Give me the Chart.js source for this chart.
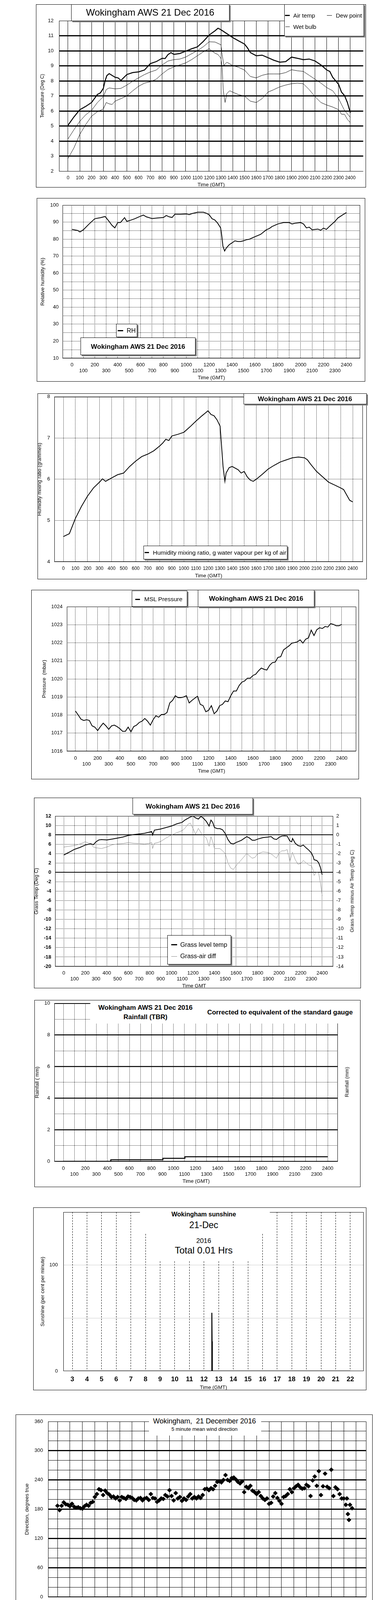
<!DOCTYPE html>
<html>
<head>
<meta charset="utf-8">
<title>Wokingham AWS 21 Dec 2016</title>
<script src="https://cdn.jsdelivr.net/npm/chart.js@4.4.1/dist/chart.umd.min.js"></script>
<style>
  body { margin: 0; width: 1000px; height: 5000px; position: relative; background: #fff;
         font-family: 'Liberation Sans', Arial, sans-serif; color: #000; overflow: hidden; }
  canvas { position: absolute; left: 0; z-index: 1; }
  .frame { position: absolute; border: 1px solid #000; box-sizing: border-box; }
  .tbox { position: absolute; background: #fff; border: 1px solid #000; box-sizing: border-box;
          box-shadow: 3px 3px 0 #808080; z-index: 3; }
  .mask { position: absolute; background: #fff; z-index: 2; }
  .t { position: absolute; white-space: pre; transform: translate(-50%, -50%); line-height: 1; z-index: 4; }
  .tl { position: absolute; white-space: pre; transform: translateY(-50%); line-height: 1; z-index: 4; }
  .vt { position: absolute; white-space: pre; transform: translate(-50%, -50%) rotate(-90deg); line-height: 1; z-index: 4; font-size: 13px; }
  .sw { position: absolute; background: #000; z-index: 4; }
  .dm { position: absolute; width: 7px; height: 7px; border: 1px solid #000; background: #fff; box-sizing: border-box; transform: rotate(45deg); z-index: 4; }
  .b { font-weight: bold; }
</style>
</head>
<body>

<!-- 1: temperatures -->
<div class="frame" style="left:92px;top:11px;width:844px;height:469px"></div>
<div class="tbox" style="left:182px;top:11px;width:405px;height:43px"></div>
<div class="t" style="left:384px;top:32px;font-size:24px">Wokingham AWS 21 Dec 2016</div>
<div class="tbox" style="left:727px;top:11px;width:204px;height:82px"></div>
<div class="sw" style="left:729px;top:38px;width:12px;height:3px"></div>
<div class="tl" style="left:750px;top:39px;font-size:15px">Air temp</div>
<div class="sw" style="left:836px;top:39px;width:13px;height:1px"></div>
<div class="tl" style="left:859px;top:39px;font-size:15px">Dew point</div>
<div class="sw" style="left:730px;top:68px;width:11px;height:1px"></div>
<div class="tl" style="left:750px;top:68px;font-size:15px">Wet bulb</div>
<canvas id="c1"></canvas>

<!-- 2: relative humidity -->
<div class="frame" style="left:94px;top:507px;width:840px;height:470px"></div>
<div class="tbox" style="left:297px;top:829px;width:54px;height:34px"></div>
<div class="sw" style="left:301px;top:845px;width:14px;height:3px"></div>
<div class="tl" style="left:324px;top:847px;font-size:16px">RH</div>
<div class="tbox" style="left:206px;top:864px;width:294px;height:45px"></div>
<div class="t b" style="left:353px;top:887px;font-size:17px">Wokingham AWS 21 Dec 2016</div>
<canvas id="c2"></canvas>

<!-- 3: mixing ratio -->
<div class="frame" style="left:96px;top:1007px;width:842px;height:476px"></div>
<div class="tbox" style="left:623px;top:1007px;width:315px;height:28px"></div>
<div class="t b" style="left:780px;top:1021px;font-size:17px">Wokingham AWS 21 Dec 2016</div>
<div class="tbox" style="left:367px;top:1397px;width:368px;height:35px"></div>
<div class="sw" style="left:370px;top:1413px;width:11px;height:3px"></div>
<div class="tl" style="left:391px;top:1415px;font-size:15.5px">Humidity mixing ratio, g water vapour per kg of air</div>
<canvas id="c3"></canvas>

<!-- 4: pressure -->
<div class="frame" style="left:80px;top:1510px;width:838px;height:485px"></div>
<div class="tbox" style="left:337px;top:1512px;width:142px;height:41px"></div>
<div class="sw" style="left:346px;top:1533px;width:12px;height:3px"></div>
<div class="tl" style="left:369px;top:1534px;font-size:15.5px">MSL Pressure</div>
<div class="tbox" style="left:506px;top:1510px;width:298px;height:44px"></div>
<div class="t b" style="left:655px;top:1532px;font-size:17px">Wokingham AWS 21 Dec 2016</div>
<canvas id="c4"></canvas>

<!-- 5: grass temperature -->
<div class="frame" style="left:87px;top:2042px;width:836px;height:488px"></div>
<div class="tbox" style="left:339px;top:2042px;width:308px;height:43px"></div>
<div class="t b" style="left:493px;top:2064px;font-size:17px">Wokingham AWS 21 Dec 2016</div>
<div class="tbox" style="left:428px;top:2394px;width:163px;height:75px"></div>
<div class="sw" style="left:438px;top:2417px;width:15px;height:3px"></div>
<div class="tl" style="left:461px;top:2419px;font-size:16px">Grass level temp</div>
<div class="sw" style="left:438px;top:2448px;width:15px;height:1px;background:#888"></div>
<div class="tl" style="left:461px;top:2448px;font-size:16px">Grass-air diff</div>
<div class="vt" style="left:900px;top:2281px">Grass Temp minus Air Temp (Deg C)</div>
<canvas id="c5"></canvas>

<!-- 6: rainfall -->
<div class="frame" style="left:88px;top:2560px;width:834px;height:479px"></div>
<div class="mask" style="left:231px;top:2561px;width:690px;height:59px"></div>
<div class="t b" style="left:372px;top:2579px;font-size:17px">Wokingham AWS 21 Dec 2016</div>
<div class="t b" style="left:372px;top:2603px;font-size:17px">Rainfall (TBR)</div>
<div class="t b" style="left:716px;top:2591px;font-size:17px">Corrected to equivalent of the standard gauge</div>
<div class="vt" style="left:887px;top:2770px">Rainfall (mm)</div>
<canvas id="c6"></canvas>

<!-- 7: sunshine -->
<div class="frame" style="left:85px;top:3091px;width:852px;height:468px"></div>
<div class="mask" style="left:358px;top:3092px;width:332px;height:65px"></div>
<div class="mask" style="left:374px;top:3157px;width:296px;height:72px"></div>
<div class="t b" style="left:521px;top:3109px;font-size:16px">Wokingham sunshine</div>
<div class="t" style="left:521px;top:3136px;font-size:23px">21-Dec</div>
<div class="t" style="left:521px;top:3176px;font-size:17px">2016</div>
<div class="t" style="left:521px;top:3201px;font-size:24px">Total 0.01 Hrs</div>
<canvas id="c7"></canvas>

<!-- 8: wind direction -->
<div class="frame" style="left:40px;top:3621px;width:913px;height:515px"></div>
<div class="mask" style="left:381px;top:3627px;width:287px;height:48px"></div>
<div class="t" style="left:523px;top:3638px;font-size:18px">Wokingham,  21 December 2016</div>
<div class="t" style="left:523px;top:3658px;font-size:13px">5 minute mean wind direction</div>
<canvas id="c8"></canvas>

<!-- 9: wind speed -->
<div class="frame" style="left:38px;top:4164px;width:911px;height:495px"></div>
<div class="t b" style="left:265px;top:4186px;font-size:17px">Wokingham,  21 December 2016</div>
<div class="t" style="left:574px;top:4177px;font-size:14px">Wind speed, 10 min mean / max gust</div>
<div class="t" style="left:574px;top:4194px;font-size:14px">Speeds below 4 kt shown at x10 scale</div>
<div class="tbox" style="left:727px;top:4170px;width:219px;height:26px"></div>
<div class="sw" style="left:757px;top:4183px;width:10px;height:3px"></div>
<div class="tl" style="left:776px;top:4184px;font-size:11px">Speed x 1</div>
<div class="dm" style="left:846px;top:4180px"></div>
<div class="tl" style="left:862px;top:4184px;font-size:11px">Speed / 10</div>
<canvas id="c9"></canvas>

<script>
// ---------- data (times in hours GMT) ----------
const hourTicks = [0,1,2,3,4,5,6,7,8,9,10,11,12,13,14,15,16,17,18,19,20,21,22,23,24];
const windHourTicks = [0,1,2,3,4,5,6,7,8,9,10,11,12,13,14,15,16,17,18,19,20,21,22,23];
const sunHourTicks = [3,4,5,6,7,8,9,10,11,12,13,14,15,16,17,18,19,20,21,22];

const airTimes = [0,0.5,1,1.5,2,2.5,2.75,3,3.15,3.3,3.5,4,4.25,4.5,5,5.5,6,6.5,7,7.5,8,8.25,8.5,8.75,9,9.5,10,10.5,11,11.5,12,12.5,12.75,13,13.5,14,14.5,15,15.25,15.5,16,16.5,17,17.5,18,18.5,19,19.5,20,20.5,21,21.5,22,22.25,22.5,23,23.25,23.5,23.75,24];
const airTemp = [5.05,5.6,6.08,6.3,6.56,7.1,7.2,7.5,8.0,8.35,8.48,8.24,8.2,8.03,8.42,8.55,8.6,8.72,9.15,9.28,9.5,9.48,9.75,9.88,9.76,9.82,9.97,10.13,10.26,10.62,11.05,11.33,11.5,11.4,11.14,10.88,10.66,10.45,10.2,9.88,9.67,9.71,9.54,9.37,9.24,9.28,9.58,9.5,9.41,9.45,9.32,9.06,8.72,8.63,8.24,7.77,7.25,7.03,6.56,5.87];

const wetTimes = [0,0.5,1,1.5,2,2.5,3,3.25,3.5,4,4.5,5,5.5,6,6.5,7,7.5,8,8.5,9,9.5,10,10.5,11,11.5,12,12.5,13,13.1,13.25,13.5,14,14.5,15,15.5,16,16.5,17,17.5,18,18.5,19,19.5,20,20.5,21,21.5,22,22.5,23,23.5,24];
const wetBulb = [4.14,4.75,5.31,5.74,6.04,6.56,6.95,7.42,7.53,7.47,7.5,7.72,7.98,8.2,8.42,8.59,8.72,9.06,9.32,9.41,9.45,9.58,9.8,10.01,10.27,10.6,10.58,10.4,9.75,9.02,9.24,9.02,8.9,8.72,8.29,8.2,8.37,8.46,8.46,8.46,8.55,8.74,8.67,8.63,8.37,8.11,7.85,7.55,7.34,6.82,6.04,5.57];

const dewTimes = [0,0.25,0.5,1,1.5,2,2.5,3,3.25,3.5,3.75,4,4.5,5,5.5,6,6.5,7,7.5,8,8.5,9,9.5,10,10.5,11,11.5,12,12.25,12.5,12.75,13,13.1,13.2,13.35,13.5,13.75,14,14.5,15,15.5,16,16.5,17,17.5,18,18.5,19,19.5,20,20.5,21,21.5,22,22.5,23,23.25,23.5,23.75,24];
const dewPoint = [2.85,3.19,3.54,4.44,5.09,5.65,5.95,6.13,6.56,6.47,6.43,6.65,6.82,7.0,7.34,7.64,7.85,7.94,8.11,8.46,8.76,8.93,9.06,9.19,9.41,9.67,9.93,10.14,9.97,9.84,9.75,9.5,8.9,7.34,6.56,7.16,7.34,7.25,7.08,6.99,6.65,6.56,6.82,7.25,7.42,7.6,7.72,7.81,7.85,7.81,7.42,6.95,6.56,6.39,6.26,6.08,5.78,5.78,5.44,5.22];

const rhTimes = [0,0.5,0.7,1,1.5,2,2.5,2.9,3.25,3.5,3.75,4,4.25,4.6,4.8,5,5.5,6,6.25,6.5,7,7.5,8,8.25,8.5,8.75,9,9.5,10,10.25,10.5,11,11.5,11.75,12,12.25,12.5,12.75,13,13.1,13.2,13.35,13.5,13.75,14,14.25,14.5,14.75,15,15.25,15.5,16,16.5,17,17.25,17.5,18,18.5,19,19.25,19.5,20,20.25,20.5,20.75,21,21.5,21.75,22,22.25,22.5,22.75,23,23.25,23.5,23.75,24];
const rhValues = [85.7,85.1,84.2,85.5,88.9,92.0,92.6,93.3,90.4,88.1,86.6,89.7,89.8,92.6,90.4,90.8,92.0,93.5,94.1,93.1,92.1,92.4,92.7,93.9,93.1,92.7,94.6,94.6,94.8,94.4,95.0,95.8,95.8,95.2,94.3,92.0,91.2,89.3,86.6,82,75.9,73.0,74.8,76.7,77.8,79.0,78.6,78.6,79.0,79.6,79.9,81.4,82.8,85.5,86.2,87.4,88.9,89.7,89.7,88.9,89.3,89.7,88.9,86.6,87.0,85.5,85.9,85.2,86.5,85.7,87.4,88.9,90.4,92.4,93.5,94.6,95.6];

const mixTimes = [0,0.5,1,1.5,2,2.5,3,3.25,3.5,4,4.5,5,5.5,6,6.5,7,7.5,8,8.25,8.5,8.75,9,9.5,10,10.5,11,11.5,11.75,12,12.25,12.5,12.75,13,13.1,13.25,13.4,13.5,13.75,14,14.5,14.75,15,15.25,15.5,15.75,16,16.5,17,17.5,18,18.5,19,19.5,20,20.25,20.5,21,21.5,22,22.5,23,23.25,23.5,23.75,24];
const mixValues = [4.61,4.68,5.05,5.34,5.59,5.79,5.93,6.01,5.95,6.03,6.11,6.15,6.31,6.44,6.55,6.61,6.69,6.81,6.88,6.97,6.94,7.05,7.09,7.14,7.27,7.41,7.54,7.6,7.66,7.57,7.54,7.44,7.29,6.9,6.3,5.95,6.15,6.28,6.31,6.23,6.15,6.19,6.06,5.98,5.95,6.0,6.12,6.25,6.34,6.42,6.47,6.52,6.54,6.52,6.47,6.37,6.19,6.06,5.93,5.86,5.79,5.75,5.62,5.49,5.45];

// MSL pressure, one reading every 15 minutes from 00:00
const pressure15 = [1018.22,1018.0,1017.77,1017.7, 1017.74,1017.7,1017.4,1017.33, 1017.14,1017.36,1017.55,1017.4, 1017.21,1017.4,1017.44,1017.36,
  1017.25,1017.1,1017.1,1017.33, 1017.07,1017.36,1017.44,1017.59, 1017.66,1017.81,1017.66,1017.44, 1017.74,1017.96,1017.88,1018.03,
  1018.03,1018.14,1018.67,1018.81, 1019.07,1018.96,1018.96,1019.0, 1019.07,1018.67,1018.81,1018.93, 1019.04,1018.59,1018.52,1018.18,
  1018.26,1018.52,1018.07,1018.22, 1018.52,1018.59,1018.78,1018.74, 1019.07,1019.33,1019.33,1019.63, 1019.82,1019.89,1020.04,1020.04,
  1020.19,1020.26,1020.45,1020.6, 1020.53,1020.49,1020.75,1020.9, 1020.93,1021.19,1021.23,1021.6, 1021.72,1021.83,1021.98,1022.01,
  1022.05,1022.16,1021.98,1022.2, 1022.27,1022.7,1022.4,1022.72, 1022.83,1022.79,1022.9,1022.87, 1023.06,1023.02,1022.94,1022.94, 1023.02];

const grassTimes = [0,0.5,1,1.5,2,2.5,2.75,3,3.25,3.5,4,4.5,5,5.5,6,6.5,7,7.5,8,8.17,8.25,8.42,8.75,9,9.5,10,10.5,11,11.25,11.5,11.75,12,12.25,12.5,12.75,13,13.25,13.5,13.67,13.83,14,14.25,14.5,14.75,15,15.25,15.5,15.75,16,16.5,17,17.25,17.5,17.75,18,18.5,19,19.25,19.5,19.75,20,20.25,20.5,20.75,21,21.17,21.25,21.5,21.75,22,22.25,22.5,22.75,23,23.17,23.25,23.5,23.67,23.83,24];
const grassTemp = [3.71,4.29,4.92,5.31,5.82,6.1,5.9,6.52,6.9,7.0,6.9,7.09,7.31,7.54,7.86,8.05,8.18,8.33,8.59,8.69,7.95,9.0,9.13,9.23,9.55,9.86,10.34,10.66,11.14,11.46,11.78,12.0,11.6,11.36,11.94,11.46,10.82,9.86,11.14,10.66,9.55,9.32,9.32,9.07,8.27,7.0,6.2,6.04,6.36,6.84,7.63,7.31,6.84,6.84,7.09,7.41,7.54,7.63,7.15,7.0,7.47,7.73,7.79,7.73,6.68,6.52,7.22,6.2,5.72,5.56,5.82,5.24,4.76,4.13,3.33,2.69,2.53,2.06,1.1,-0.49];
const grassAirDiff = [-1.3,-1.22,-1.14,-0.98,-0.74,-0.98,-1.3,-1.38,-1.42,-1.46,-1.3,-1.06,-0.98,-0.93,-0.82,-0.9,-0.93,-0.98,-0.9,-0.82,-1.46,-0.9,-0.82,-0.71,-0.34,-0.02,0.22,0.45,0.69,1.09,1.25,0.69,0.06,0.69,0.22,-0.1,-0.34,-1.22,-0.18,-0.74,-1.46,-1.46,-1.46,-1.7,-2.02,-2.97,-3.53,-3.69,-3.29,-2.65,-1.98,-2.25,-2.49,-2.41,-2.02,-1.82,-1.89,-2.02,-2.25,-2.49,-1.94,-1.7,-1.7,-1.57,-2.81,-2.18,-1.86,-2.65,-3.13,-3.05,-2.73,-2.97,-3.21,-3.29,-3.77,-4.33,-3.93,-4.09,-5.04,-6.48];

const rainTimes = [0, 4.31, 9.04, 11.04, 24];
const rainTotal = [0, 0.1, 0.19, 0.29, 0.29];

const sunTimes = [3, 12.52, 12.535, 12.55, 12.565, 22];
const sunPercent = [0, 0, 55, 28, 0, 0];

const dirMinutes = [0,10,20,30,40,50,60,70,80,90,100,110,120,130,140,150,160,170,180,190,200,210,220,230,240,250,260,270,280,290,
  300,310,320,330,340,350,360,370,380,390,400,410,420,430,440,450,460,470,480,490,500,510,520,530,540,550,560,570,580,590,
  600,610,620,630,640,650,660,670,680,690,700,710,720,730,740,750,760,770,780,790,800,810,820,830,840,850,860,870,880,890,
  900,910,920,930,940,950,960,970,980,990,1000,1010,1020,1030,1040,1050,1060,1070,1080,1090,1100,1110,1120,1130,1140,1150,1160,1170,1180,1190,
  1200,1210,1220,1230,1240,1250,1260,1270,1280,1290,1300,1310,1320,1330,1340,1350,1360,1370,1380,1390,1395,1400,1405,1410,1420];
const dirDegrees = [187,178,187,194,190,189, 186,191,185,183,184,182, 181,186,189,187,193,195, 205,211,221,219,209,218, 213,210,205,206,202,205,
  198,205,203,201,206,205, 203,199,198,202,203,198, 202,203,199,211,203,202, 195,198,202,201,209,206, 219,207,198,213,202,205,
  197,202,199,206,211,202, 205,202,206,203,209,221, 222,219,223,221,228,236, 237,235,240,250,240,238, 244,245,241,236,233,237,
  215,226,223,228,218,215, 211,215,207,202,199,202, 191,193,206,213,203,197, 191,205,207,211,221,215, 223,227,230,225,222,223,
  230,227,207,239,247,228, 258,209,227,253,226,223, 261,207,225,221,211,202, 202,189, 202,170,158,189,182];

// wind speed: 10 min mean (knots)
const meanTimes = [0,0.17,0.33,0.5,0.67,0.83,1,1.17,1.33,1.5,1.67,1.83,2,2.33,2.67,2.83,3,3.17,3.33,3.5,3.67,3.83,4,4.33,4.67,5,5.17,5.33,5.5,5.67,
  5.83,6,6.17,6.33,6.5,6.67,6.83,7,7.33,7.67,8,8.17,8.33,8.5,8.67,8.83,9,9.17,9.33,9.5,9.67,9.83,10,10.33,10.67,11,11.33,11.67,12,12.33,
  12.67,13,13.17,13.33,13.5,13.67,13.83,14,14.17,14.33,14.5,14.67,14.83,15,15.5,16,16.33,16.67,17,17.33,17.5,17.67,18,18.33,18.67,19,19.33,19.67,20,20.33,
  20.67,20.83,21,21.17,21.33,21.5,21.67,21.83,22,22.33,22.67,22.83,23,23.17,23.33,23.5,23.67,23.83,24];
const meanSpeed = [6.9,6.5,6.6,7.9,8.8,9.8,10.1,9.3,6.9,8.4,7.4,6.2,6.2,6.6,6.4,5.8,6.0,7.2,7.9,7.4,8.8,10.5,10.2,10.0,10.7,10.0,10.7,11.6,10.9,10.7,
  11.6,9.8,9.3,9.8,10.7,11.6,9.8,9.7,8.8,8.1,8.4,8.8,8.3,8.8,7.9,6.9,6.5,7.4,7.5,7.2,7.9,8.8,8.6,9.1,8.8,8.4,8.1,7.9,8.1,7.9,
  8.6,9.1,9.8,11.6,10.7,10.7,9.3,8.8,7.9,6.9,6.2,5.5,5.1,5.0,4.8,5.1,4.4,4.8,4.6,4.6,3.6,4.1,4.4,4.1,4.4,4.2,5.3,4.6,3.9,4.4,
  4.8,4.1,3.4,4.4,4.8,5.5,4.6,3.9,3.4,2.7,2.3,1.8,1.2,0.8,0.9,1.5,1.1,1.5,2.0];

// max gust (knots), one value every 10 minutes from 00:00 to 24:00
const gust10min = [11,7.5,12,15,11,14, 17,9,15,7,14,5, 11,8,10.5,7,11,6.5, 13,9,15,10,17,11, 19.5,11,19,12,18,10, 16,12,23,12,21,13,
  20.5,11,18,12,21,11, 17,10,14,9,15,9, 13,8.5,13.5,9,13,8, 11,8,15,9,16,10, 14,10,17,9,14,10, 14,9,13,9,13,9,
  14,9,13,10,15,10, 14,11,20.5,12,17,11, 17,9,10,6.5,9,6, 9.5,6,8,5.5,7.5,5.5, 7,5,7,5,7,5, 6.5,4.5,6,4.5,6.5,5,
  6,5,6.5,5,7.5,5, 7,5,7,5,7,5, 8.5,5,7,5,6.5,4.5, 6,5.5,7.5,6,5.5,5, 4.5,3.5,4.5,3,3,2, 1.5,1,2,1.5,1.5,2, 2.5];

// speeds below 4 kt plotted at x10
const lowTimes = [17.48,17.5,17.53,17.56,17.6,17.63,17.67,17.7,17.75,17.8,17.83,
  19.72,19.76,19.8,19.85,19.9,19.95,20.0,20.05,20.1,20.15,20.2,20.27,
  20.72,20.76,20.8,20.83,20.86,20.88,20.92,20.96,21.0,
  21.38,21.42,21.46,21.5,21.55,21.6,21.64,21.68,21.72,21.76,21.8,21.84,21.88,21.92,21.96,22.0,22.04,22.08,22.12,22.16,22.2,22.25,22.3,22.35,
  22.4,22.45,22.5,22.55,22.6,22.65,22.7,22.75,22.8,22.85,22.9,22.95,23.0,23.05,23.1,23.15,23.2,23.25,23.3,23.35,23.4,23.45,23.5,
  23.55,23.58,23.62,23.66,23.7,23.75,23.8,23.84,23.88,23.92,23.95,23.98];
const lowSpeedX10 = [39.8,38.5,37.3,36.2,35.0,36.5,37.8,37.0,38.2,39.2,38.0,
  40.0,39.2,40.3,38.8,39.6,37.8,38.5,36.8,38.2,36.4,37.6,39.5,
  39.6,37.8,36.6,35.0,33.6,32.5,36.0,38.6,40.2,
  39.0,38.2,39.6,38.6,37.8,39.2,37.0,36.0,34.6,33.4,32.2,31.0,30.0,31.2,29.4,28.4,27.4,28.8,27.0,25.8,26.8,25.0,24.0,22.8,
  21.6,22.8,20.6,19.0,18.4,17.0,15.4,13.6,12.0,10.6,9.6,9.0,8.4,7.8,8.6,7.6,9.0,10.4,11.6,13.0,14.8,16.6,18.4,
  17.2,15.2,13.0,11.2,9.6,8.8,10.4,12.4,14.4,16.2,17.8,19.4];

// ---------- helpers ----------
const FONT = "'Liberation Sans', Arial, sans-serif";
Chart.defaults.font.family = FONT;
Chart.defaults.font.size = 13;
Chart.defaults.color = '#000';

function pts(xs, ys) {
    return xs.map((x, i) => ({ x: x, y: ys[i] }));
}

// plain black rectangle round the plot area
const framePlugin = {
    id: 'frame',
    beforeDatasetsDraw(chart, args, opts) {
        if (!opts || !opts.show) return;
        const a = chart.chartArea, ctx = chart.ctx;
        ctx.save();
        ctx.strokeStyle = '#000';
        ctx.lineWidth = 1;
        ctx.strokeRect(Math.round(a.left) + 0.5, Math.round(a.top) + 0.5,
                       Math.round(a.right - a.left) - 1, Math.round(a.bottom - a.top) - 1);
        ctx.restore();
    }
};
Chart.register(framePlugin);

const lab100 = v => String(v * 100);
const lab100two = v => (v % 2 === 0 ? String(v * 100) : ['', String(v * 100)]);
const labClock = v => {
    const s = (v < 10 ? '0' : '') + v + ':00';
    return v % 2 === 0 ? s : ['', s];
};

function xAxis(o) {
    return {
        type: 'linear', position: 'bottom', min: o.min, max: o.max,
        afterBuildTicks: s => { s.ticks = o.ticks.map(v => ({ value: v })); },
        ticks: { autoSkip: false, maxRotation: 0, minRotation: 0, padding: o.pad,
                 font: { size: o.size || 13, weight: o.bold ? 'bold' : 'normal' }, callback: o.label },
        grid: { drawTicks: false, color: '#000', lineWidth: 1 },
        border: { display: false, dash: o.dash || [] },
        title: { display: true, text: o.title, padding: { top: 0, bottom: o.titlePad }, font: { size: 13 } }
    };
}

function yAxis(o) {
    return {
        type: 'linear', position: o.position || 'left', min: o.min, max: o.max,
        ticks: { stepSize: o.step, padding: o.pad,
                 font: { size: o.size || 13, weight: o.bold ? 'bold' : 'normal' },
                 callback: o.label || (v => String(v)) },
        grid: { drawTicks: false, display: o.grid !== false, color: o.gridColor || '#000', lineWidth: o.lineWidth || 1 },
        border: { display: !!o.axisLine, color: '#000', width: 1, dash: o.dash || [] },
        title: o.title ? { display: true, text: o.title, padding: { top: o.titlePad, bottom: 0 }, font: { size: o.titleSize || 13 } }
                       : { display: false }
    };
}

// geo: canvas top / height and plot area, all in page pixels
function makeChart(id, geo, datasets, scales, plugins) {
    const cv = document.getElementById(id);
    cv.width = 1000;
    cv.height = geo.h;
    cv.style.top = geo.top + 'px';
    const a = geo.area;
    scales.x.afterFit = s => { s.height = geo.top + geo.h - a.b; };
    scales.y.afterFit = s => { s.width = a.l; };
    let padRight = 1000 - a.r;
    if (scales.y2) {
        scales.y2.afterFit = s => { s.width = 1000 - a.r; };
        padRight = 0;
    }
    return new Chart(cv, {
        type: 'line',
        data: { datasets: datasets },
        options: {
            responsive: false, animation: false, devicePixelRatio: 1,
            layout: { padding: { top: a.t - geo.top, right: padRight, bottom: 0, left: 0 } },
            plugins: Object.assign({ legend: { display: false }, tooltip: { enabled: false } }, plugins || {}),
            elements: { point: { radius: 0 }, line: { tension: 0, borderColor: '#000' } },
            scales: scales
        }
    });
}

function line(data, width, color, extra) {
    return Object.assign({ data: data, borderColor: color || '#000', borderWidth: width, pointRadius: 0, fill: false }, extra || {});
}

const dotted = [1, 1];

// ---------- 1: temperatures ----------
makeChart('c1', { top: 1, h: 489, area: { l: 151, t: 53, r: 929, b: 438 } }, [
    line(pts(airTimes, airTemp), 2.5),
    line(pts(wetTimes, wetBulb), 1),
    line(pts(dewTimes, dewPoint), 1)
], {
    x: xAxis({ min: -0.7645, max: 25.097, ticks: hourTicks, label: lab100, pad: 10, size: 12, title: 'Time (GMT)', titlePad: 8.8 }),
    y: yAxis({ min: 2, max: 12, step: 1, pad: 14, axisLine: true, title: 'Temperature (Deg C)', titlePad: 101.8, titleSize: 12,
               lineWidth: c => (c.tick.value === 2 || c.tick.value === 12 ? 1 : 3) })
});

// ---------- 2: relative humidity ----------
makeChart('c2', { top: 497, h: 490, area: { l: 160, t: 525, r: 921, b: 917 } }, [
    line(pts(rhTimes, rhValues), 2)
], {
    x: xAxis({ min: -0.8205, max: 25.197, ticks: hourTicks, label: lab100two, pad: 9.2, dash: dotted, title: 'Time (GMT)', titlePad: 12.2 }),
    y: yAxis({ min: 10, max: 100, step: 5, pad: 10, dash: dotted, title: 'Relative humidity (%)', titlePad: 102,
               label: v => (v % 10 === 0 ? String(v) : '') })
}, { frame: { show: true } });

// ---------- 3: mixing ratio ----------
makeChart('c3', { top: 997, h: 496, area: { l: 139, t: 1014, r: 928, b: 1438 } }, [
    line(pts(mixTimes, mixValues), 2)
], {
    x: xAxis({ min: -0.746, max: 24.843, ticks: hourTicks, label: lab100, pad: 10.8, size: 12, dash: dotted, title: 'Time (GMT)', titlePad: 11.2 }),
    y: yAxis({ min: 4, max: 8, step: 1, pad: 11, dash: dotted, title: 'Humidity mixing ratio (grammes)', titlePad: 94 })
}, { frame: { show: true } });

// ---------- 4: pressure ----------
makeChart('c4', { top: 1500, h: 505, area: { l: 171, t: 1553, r: 911, b: 1923 } }, [
    line(pressure15.map((p, i) => ({ x: i / 4, y: p })), 2)
], {
    x: xAxis({ min: -0.775, max: 25.304, ticks: hourTicks, label: lab100two, pad: 10.2, dash: dotted, title: 'Time (GMT)', titlePad: 23.2 }),
    y: yAxis({ min: 1016, max: 1024, step: 1, pad: 11, dash: dotted, title: 'Pressure  (mbar)', titlePad: 106 })
}, { frame: { show: true } });

// ---------- 5: grass temperature ----------
const grassMain = c => (c.tick.value === 8 || c.tick.value === 0);
makeChart('c5', { top: 2032, h: 508, area: { l: 141, t: 2089, r: 852, b: 2474 } }, [
    line(pts(grassTimes, grassTemp), 2, '#000', { yAxisID: 'y' }),
    line(pts(grassTimes, grassAirDiff), 1, '#888', { yAxisID: 'y2' })
], {
    x: xAxis({ min: -0.799, max: 25.017, ticks: hourTicks, label: lab100two, pad: 9.2, dash: dotted, title: 'Time GMT', titlePad: 8.2 }),
    y: yAxis({ min: -20, max: 12, step: 2, pad: 10, bold: true, title: 'Grass Temp (Deg C)', titlePad: 86,
               lineWidth: c => (grassMain(c) ? 2 : 1), dash: c => (grassMain(c) ? [] : dotted) }),
    y2: yAxis({ position: 'right', min: -14, max: 2, step: 1, pad: 8, grid: false })
}, { frame: { show: true } });

// ---------- 6: rainfall ----------
makeChart('c6', { top: 2550, h: 499, area: { l: 139, t: 2568, r: 864, b: 2973 } }, [
    line(pts(rainTimes, rainTotal), 2.5, '#000', { stepped: 'before' })
], {
    x: xAxis({ min: -0.817, max: 24.923, ticks: hourTicks, label: lab100two, pad: 10.2, dash: dotted, title: 'Time (GMT)', titlePad: 17.2 }),
    y: yAxis({ min: 0, max: 10, step: 1, pad: 11, title: 'Rainfall ( mm)', titlePad: 88,
               label: v => (v % 2 === 0 ? String(v) : ''),
               lineWidth: c => (c.tick.value % 2 === 0 && c.tick.value > 0 && c.tick.value < 10 ? 2.5 : 1),
               dash: c => (c.tick.value % 2 === 0 ? [] : dotted) })
}, { frame: { show: true } });

// ---------- 7: sunshine ----------
makeChart('c7', { top: 3081, h: 488, area: { l: 162, t: 3101, r: 930, b: 3510 } }, [
    line(pts(sunTimes, sunPercent), 2.5)
], {
    x: xAxis({ min: 2.385, max: 22.909, ticks: sunHourTicks, label: v => String(v), pad: 10.8, size: 17, bold: true,
               dash: [4, 3], title: 'Time (GMT)', titlePad: 9.2 }),
    y: yAxis({ min: 0, max: 150, step: 50, pad: 14, title: 'Sunshine (per cent per minute)', titlePad: 102,
               label: v => (v === 0 || v === 100 ? String(v) : ''),
               gridColor: c => (c.tick.value === 50 || c.tick.value === 100 ? '#9a9a9a' : 'rgba(0,0,0,0)'), dash: dotted })
}, { frame: { show: true } });

// ---------- 8: wind direction ----------
makeChart('c8', { top: 3611, h: 535, area: { l: 123, t: 3639, r: 937, b: 4088 } }, [
    { data: dirMinutes.map((m, i) => ({ x: m / 60, y: dirDegrees[i] })), showLine: false,
      pointStyle: 'rectRot', pointRadius: 5.5, pointBackgroundColor: '#000', pointBorderColor: '#000', pointBorderWidth: 1 }
], {
    x: xAxis({ min: -0.754, max: 24.817, ticks: hourTicks, label: v => String(v), pad: 10.2, title: 'Time (GMT)', titlePad: 15.2 }),
    y: yAxis({ min: 0, max: 360, step: 10, pad: 13, title: 'Direction, degrees true', titlePad: 62,
               label: v => (v % 30 === 0 ? String(v) : ''),
               lineWidth: c => (c.tick.value % 30 === 0 && c.tick.value > 0 && c.tick.value < 360 ? 3 : 1) })
}, { frame: { show: true } });

// ---------- 9: wind speed ----------
makeChart('c9', { top: 4154, h: 515, area: { l: 96, t: 4207, r: 945, b: 4587 } }, [
    { data: pts(lowTimes, lowSpeedX10), showLine: false, pointStyle: 'rectRot', pointRadius: 4,
      pointBackgroundColor: '#c8c8c8', pointBorderColor: '#000', pointBorderWidth: 1 },
    line(pts(meanTimes, meanSpeed), 2),
    line(gust10min.map((g, i) => ({ x: i / 6, y: g })), 1, '#555')
], {
    x: xAxis({ min: -0.72, max: 25.283, ticks: windHourTicks, label: labClock, pad: 10.2, dash: dotted, title: 'Time (GMT)', titlePad: 25.2 }),
    y: yAxis({ min: 0, max: 50, step: 5, pad: 12, dash: dotted, title: 'Speed  (knots)', titlePad: 43,
               label: v => (v % 10 === 0 ? String(v) : '') })
}, { frame: { show: true } });
</script>
</body>
</html>
